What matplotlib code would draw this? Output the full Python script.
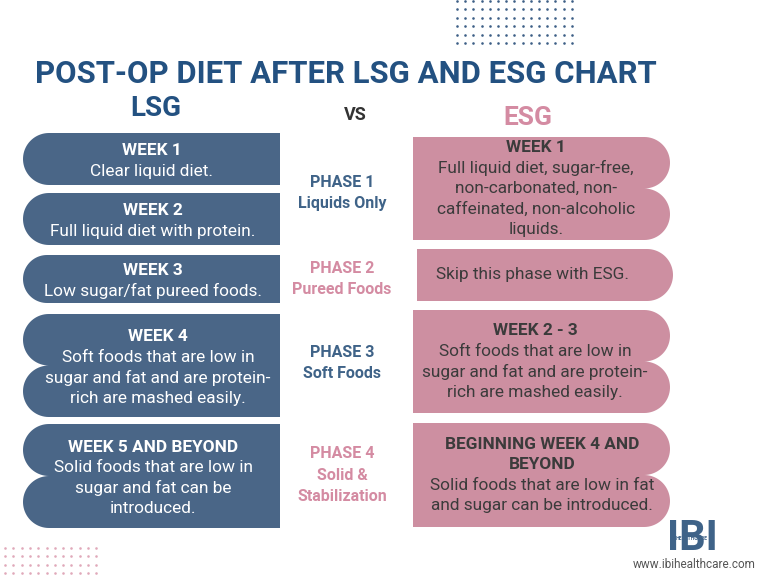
import numpy as np
import matplotlib
matplotlib.use("Agg")
import matplotlib.pyplot as plt
from matplotlib.patches import Polygon, Rectangle

plt.rcParams['font.family'] = ['Roboto', 'DejaVu Sans']

# content
title = "POST-OP DIET AFTER LSG AND ESG CHART"
lsg_headers = ["WEEK 1", "WEEK 2", "WEEK 3", "WEEK 4", "WEEK 5 AND BEYOND"]
lsg_texts = [
    ["Clear liquid diet."],
    ["Full liquid diet with protein."],
    ["Low sugar/fat pureed foods."],
    ["Soft foods that are low in", "sugar and fat and are protein-", "rich are mashed easily."],
    ["Solid foods that are low in", "sugar and fat can be", "introduced."],
]
esg_headers = [["WEEK 1"], [], ["WEEK 2 - 3"], ["BEGINNING WEEK 4 AND", "BEYOND"]]
esg_texts = [
    ["Full liquid diet, sugar-free,", "non-carbonated, non-", "caffeinated, non-alcoholic", "liquids."],
    ["Skip this phase with ESG."],
    ["Soft foods that are low in", "sugar and fat and are protein-", "rich are mashed easily."],
    ["Solid foods that are low in fat", "and sugar can be introduced."],
]
phase_names = ["PHASE 1", "PHASE 2", "PHASE 3", "PHASE 4"]
phase_subs = [["Liquids Only"], ["Pureed Foods"], ["Soft Foods"], ["Solid &", "Stabilization"]]

# layout (pixels, y down)
lsg_boxes = [(23, 280, 133, 185, 1), (23, 280, 193, 245, 1), (23, 280, 255, 303, 1),
             (23, 280, 314, 417, 2), (23, 280, 424, 528, 2)]
esg_boxes = [(413, 670, 137, 240, 2), (417, 673, 249, 301, 1),
             (413, 670, 310, 413, 2), (413, 670, 423, 527, 2)]
lsg_cx = [152, 153, 153, 158, 153]
esg_cx = [536, 533, 535, 542]
phase_y = [193, 279, 363, 475]

BLUE = "#4a6687"
TITLE_BLUE = "#235181"
PINK = "#cd8fa1"
PINK_TXT = "#d48ba2"
DARK = "#3b3b3b"


def bump_box(x0, x1, y0, y1, n, side):
    h = (y1 - y0) / n
    r = h / 2
    t = np.linspace(0, np.pi, 40)
    pts = []
    if side == "left":
        pts.append((x1, y0))
        for i in range(n):
            cy = y0 + h * i + r
            cx = x0 + r
            pts += list(zip(cx - r * np.sin(t), cy - r * np.cos(t)))
        pts.append((x1, y1))
    else:
        pts.append((x0, y0))
        for i in range(n):
            cy = y0 + h * i + r
            cx = x1 - r
            pts += list(zip(cx + r * np.sin(t), cy - r * np.cos(t)))
        pts.append((x0, y1))
    return Polygon(pts, closed=True)


fig = plt.figure(figsize=(7.68, 5.76), dpi=100)
ax = fig.add_axes([0, 0, 1, 1])
ax.set_xlim(0, 768)
ax.set_ylim(576, 0)
ax.axis("off")

# decorative dots
gx, gy = np.meshgrid(np.arange(457, 576, 8.2), np.arange(1, 44, 8.4))
ax.scatter(gx.ravel(), gy.ravel(), s=3.5, color="#3d5f86", linewidths=0)
gx, gy = np.meshgrid(np.arange(5, 100, 8.3), np.arange(548, 576, 8.4))
ax.scatter(gx.ravel(), gy.ravel(), s=3.5, color="#e0a9ba", linewidths=0)

ax.text(346, 74, title, ha="center", va="center", fontsize=22.4, fontweight="bold", color=TITLE_BLUE)
ax.text(156, 109, "LSG", ha="center", va="center", fontsize=20, fontweight="bold", color=TITLE_BLUE)
ax.text(355, 115, "VS", ha="center", va="center", fontsize=13, fontweight="bold", color="#333333")
ax.text(528, 118, "ESG", ha="center", va="center", fontsize=19, fontweight="bold", color=PINK_TXT)

LINE = 20.5


def block(cx, x_lines, y0, y1, color, bold_lines, extra=2):
    lines = [(s, True) for s in bold_lines] + [(s, False) for s in x_lines]
    ymid = (y0 + y1) / 2 + extra
    start = ymid - LINE * (len(lines) - 1) / 2
    for k, (s, b) in enumerate(lines):
        ax.text(cx, start + k * LINE, s, ha="center", va="center", fontsize=12.4,
                fontweight="bold" if b else "normal", color=color)


for (x0, x1, y0, y1, n), hd, tx, cx in zip(lsg_boxes, lsg_headers, lsg_texts, lsg_cx):
    p = bump_box(x0, x1, y0, y1, n, "left")
    p.set_facecolor(BLUE)
    p.set_edgecolor("none")
    ax.add_patch(p)
    block(cx, tx, y0, y1, "white", [hd])

for (x0, x1, y0, y1, n), hd, tx, cx in zip(esg_boxes, esg_headers, esg_texts, esg_cx):
    p = bump_box(x0, x1, y0, y1, n, "right")
    p.set_facecolor(PINK)
    p.set_edgecolor("none")
    ax.add_patch(p)
    block(cx, tx, y0, y1, DARK, hd, extra=0)

for i, (nm, sub, yc) in enumerate(zip(phase_names, phase_subs, phase_y)):
    col = "#3f6388" if i % 2 == 0 else PINK_TXT
    lines = [nm] + sub
    start = yc - 21.5 * (len(lines) - 1) / 2
    for k, s in enumerate(lines):
        ax.text(342, start + k * 21.5, s, ha="center", va="center", fontsize=11.5,
                fontweight="bold", color=col)

# logo: letters with a white band carrying the small word
ax.text(692, 539, "IBI", ha="center", va="center", fontsize=30, fontweight="bold", color="#3f6388")
ax.add_patch(Rectangle((662, 535.5), 60, 5, facecolor="white", edgecolor="none"))
ax.text(692, 538.2, "HEALTHCARE", ha="center", va="center", fontsize=3.6, fontweight="bold", color="#3f6388")
ax.text(694, 564, "www.ibihealthcare.com", ha="center", va="center", fontsize=8.5, color="#555555")

fig.savefig("out.png", dpi=100)
